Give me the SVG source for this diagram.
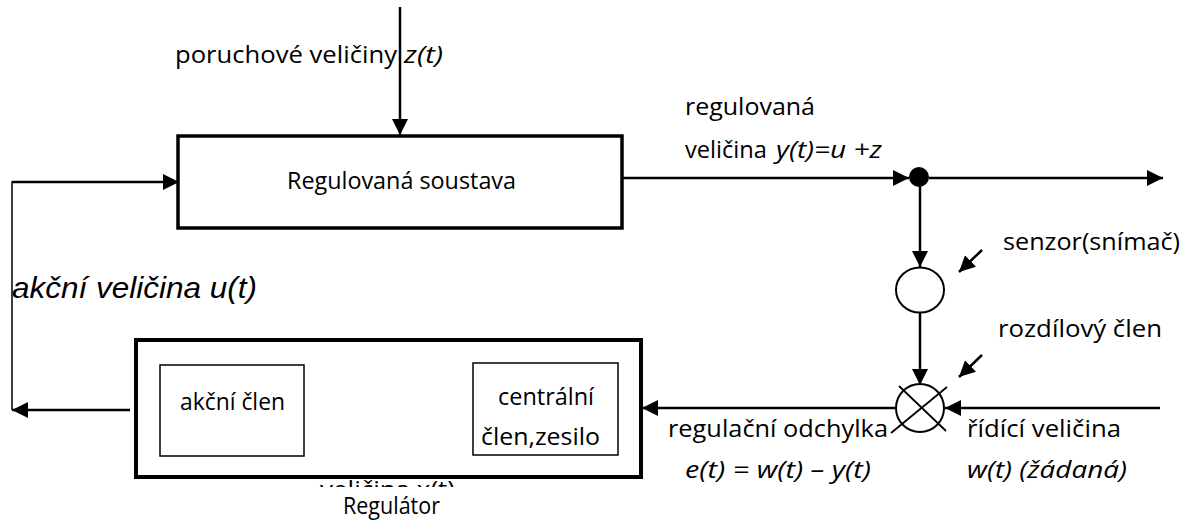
<svg xmlns="http://www.w3.org/2000/svg" width="1191" height="524" viewBox="0 0 1191 524">
<style>
.t{font-family:"Open Sans","Noto Sans",sans-serif;font-size:24px;fill:#000}
.i{font-style:italic}
.a{font-family:"Liberation Sans",Arial,sans-serif;font-style:italic;font-size:30px;fill:#000}
.ln{fill:none;stroke:#000;stroke-width:2.5}
.thin{fill:none;stroke:#000;stroke-width:1.5}
.box{fill:#fff;stroke:#000}
</style>
<defs>
<marker id="ar" markerUnits="userSpaceOnUse" markerWidth="18" markerHeight="16" viewBox="0 0 18 16" refX="16" refY="8" orient="auto">
<path d="M0,0 L16,8 L0,16 Z" fill="#000"/>
</marker>
<clipPath id="clipv"><rect x="300" y="479" width="200" height="8"/></clipPath>
</defs>

<g id="connectors">
<path class="ln" d="M400,7 L400,135" marker-end="url(#ar)"/>
<path class="ln" d="M623,178 L909,178" marker-end="url(#ar)"/>
<path class="ln" d="M929,178 L1163,178" marker-end="url(#ar)"/>
<path class="ln" d="M920,178 L920,267" marker-end="url(#ar)"/>
<path class="ln" d="M920,312 L920,385" marker-end="url(#ar)"/>
<path class="ln" d="M1160,408 L945,408" marker-end="url(#ar)"/>
<path class="ln" d="M896,408 L642,408" marker-end="url(#ar)"/>
<path class="ln" d="M641,408 L618,408" marker-end="url(#ar)"/>
<path class="ln" d="M473,409 L304,409" marker-end="url(#ar)"/>
<path class="ln" d="M160,410 L137,410" marker-end="url(#ar)"/>
<path class="ln" d="M130,410 L12,410" marker-end="url(#ar)"/>
<path class="thin" d="M12,410 L12,182 L20,182"/>
<path class="ln" d="M12,182 L179,182" marker-end="url(#ar)"/>
<path class="ln" d="M982,250 L959,272" marker-end="url(#ar)"/>
<path class="ln" d="M982,355 L959,377" marker-end="url(#ar)"/>
</g>

<g id="soustava">
<rect class="box" x="178" y="136" width="444" height="92" stroke-width="3.5"/>
<text class="t" x="287" y="189" textLength="229" lengthAdjust="spacingAndGlyphs">Regulovaná soustava</text>
</g>

<g id="branch-point">
<circle cx="919" cy="177" r="10" fill="#000"/>
</g>

<g id="senzor">
<ellipse cx="920" cy="290" rx="24" ry="22.5" fill="#fff" stroke="#000" stroke-width="2"/>
</g>

<g id="rozdilovy">
<circle cx="920" cy="408" r="24" fill="#fff" stroke="#000" stroke-width="2"/>
<line x1="899" y1="386" x2="946" y2="431" stroke="#000" stroke-width="1.8"/>
<line x1="947" y1="387" x2="891" y2="433" stroke="#000" stroke-width="1.8"/>
</g>

<g id="regulator">
<rect class="box" x="136" y="340" width="505" height="137" stroke-width="4"/>
<text class="t" x="320" y="498" textLength="135" lengthAdjust="spacingAndGlyphs" clip-path="url(#clipv)">veličina x(t)</text>
<text class="t" x="343" y="514" textLength="97" lengthAdjust="spacingAndGlyphs">Regulátor</text>
</g>

<g id="akcni-clen">
<rect class="box" x="160" y="365" width="144" height="91" stroke-width="1.5"/>
<text class="t" x="180" y="410" textLength="105" lengthAdjust="spacingAndGlyphs">akční člen</text>
</g>

<g id="centralni-clen">
<rect class="box" x="473" y="363" width="145" height="92" stroke-width="1.5"/>
<text class="t" x="498" y="405" textLength="96" lengthAdjust="spacingAndGlyphs">centrální</text>
<text class="t" x="481" y="445" textLength="119" lengthAdjust="spacingAndGlyphs">člen,zesilo</text>
</g>

<g id="labels">
<text class="t" x="175" y="63" textLength="222" lengthAdjust="spacingAndGlyphs">poruchové veličiny</text>
<text class="t i" x="404" y="63" textLength="39" lengthAdjust="spacingAndGlyphs">z(t)</text>
<text class="t" x="685" y="115" textLength="130" lengthAdjust="spacingAndGlyphs">regulovaná</text>
<text class="t" x="685" y="158" textLength="82" lengthAdjust="spacingAndGlyphs">veličina</text>
<text class="t i" x="776" y="158" textLength="106" lengthAdjust="spacingAndGlyphs">y(t)=u +z</text>
<text class="t" x="1003" y="250" textLength="177" lengthAdjust="spacingAndGlyphs">senzor(snímač)</text>
<text class="t" x="998" y="337" textLength="164" lengthAdjust="spacingAndGlyphs">rozdílový člen</text>
<text class="a" x="12" y="298" textLength="245" lengthAdjust="spacingAndGlyphs">akční veličina u(t)</text>
<text class="t" x="668" y="437" textLength="220" lengthAdjust="spacingAndGlyphs">regulační odchylka</text>
<text class="t i" x="685" y="478" textLength="186" lengthAdjust="spacingAndGlyphs">e(t) = w(t) – y(t)</text>
<text class="t" x="967" y="437" textLength="154" lengthAdjust="spacingAndGlyphs">řídící veličina</text>
<text class="t i" x="967" y="478" textLength="160" lengthAdjust="spacingAndGlyphs">w(t) (žádaná)</text>
</g>
</svg>
